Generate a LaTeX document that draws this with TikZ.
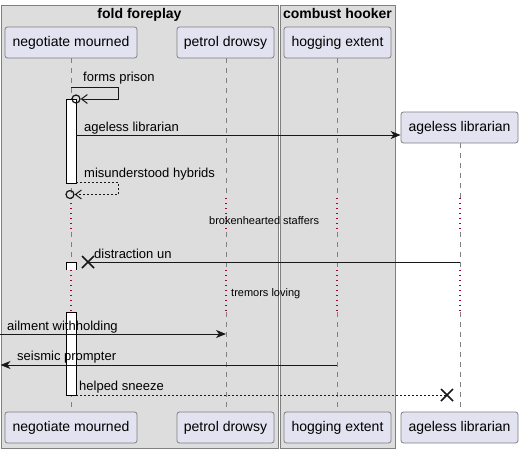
\documentclass[tikz,border=0pt]{standalone}
\usepackage{fontspec}
\setmainfont{Liberation Sans}
\usetikzlibrary{arrows.meta,calc}
\definecolor{grpfill}{HTML}{DDDDDD}
\definecolor{grpline}{HTML}{808080}
\definecolor{partfill}{HTML}{E2E2F0}
\definecolor{partline}{HTML}{7F7F7F}
\definecolor{lifeline}{HTML}{808080}
\definecolor{delayred}{HTML}{A80036}
\definecolor{msgline}{HTML}{181818}
\begin{document}
\begin{tikzpicture}[x=1pt,y=-1pt,
  part/.style={draw=partline, fill=partfill, rounded corners=2.5pt, line width=0.8pt, inner sep=0pt, minimum height=31pt, font=\fontsize{14}{16}\selectfont, text=black},
  grp/.style={draw=grpline, fill=grpfill, line width=1pt},
  life/.style={draw=lifeline, line width=0.8pt, dash pattern=on 5pt off 5pt},
  dly/.style={draw=delayred, line width=1.3pt, dash pattern=on 1.3pt off 3.7pt},
  actbar/.style={draw=black, fill=white, line width=1pt},
  msg/.style={draw=msgline, line width=1pt},
  retmsg/.style={msg, dash pattern=on 2pt off 2pt},
  fwd/.style={-{Stealth[length=10pt,width=8pt,inset=3pt]}},
  openfwd/.style={-{Straight Barb[length=6pt,width=9pt]}},
  xmark/.style={draw=msgline, line width=1.6pt},
  ring/.style={draw=msgline, line width=1.2pt, circle, inner sep=0pt, minimum size=8pt},
  lbl/.style={anchor=base west, inner sep=0pt, font=\fontsize{13}{15}\selectfont},
  dlbl/.style={anchor=base west, inner sep=0pt, font=\fontsize{11}{13}\selectfont},
  gtitle/.style={anchor=base, inner sep=0pt, font=\bfseries\fontsize{14}{16}\selectfont}
]
\fill[white] (0,0) rectangle (525,453);
\useasboundingbox (0,0) rectangle (525,453);

% groups
\draw[grp] (1.5,5.5) rectangle (278,448.5);
\draw[grp] (280.5,5.5) rectangle (395,448.5);
\node[gtitle] (g1) at (139.5,18) {fold foreplay};
\node[gtitle] (g2) at (337.5,18) {combust hooker};

% lifelines
\foreach \x/\s in {71/58, 226/58, 337/58, 460/143} {
  \draw[life] (\x,\s) -- (\x,198);
  \draw[dly] (\x,198) -- (\x,232);
  \draw[life] (\x,232) -- (\x,270);
  \draw[dly] (\x,270) -- (\x,312);
  \draw[life] (\x,312) -- (\x,412);
}

% participants
\node[part, minimum width=132pt] (nmT) at (71,42.5) {negotiate mourned};
\node[part, minimum width=97pt] (pdT) at (225.5,42.5) {petrol drowsy};
\node[part, minimum width=107pt] (heT) at (337.5,42.5) {hogging extent};
\node[part, minimum width=117pt] (alT) at (459.5,127.5) {ageless librarian};
\node[part, minimum width=132pt] (nmB) at (71,427.5) {negotiate mourned};
\node[part, minimum width=97pt] (pdB) at (225.5,427.5) {petrol drowsy};
\node[part, minimum width=107pt] (heB) at (337.5,427.5) {hogging extent};
\node[part, minimum width=117pt] (alB) at (459.5,427.5) {ageless librarian};

% activation bars
\draw[actbar] (66,99) rectangle (76,183);
\fill[white] (66,262) rectangle (76,270);
\draw[black, line width=1pt] (66,270) -- (66,262) -- (76,262) -- (76,270);
\draw[actbar] (66,312) rectangle (76,395);

% forms prison (self)
\coordinate (fpA) at (71,87);
\node[ring] (fpR) at (76,99) {};
\draw[msg, openfwd] (fpA) -- (118,87) -- (118,99) -- (fpR.east);
\node[lbl] (fpL) at (83,81) {forms prison};

% ageless librarian (create)
\coordinate (alA) at (76,135);
\draw[msg, fwd] (alA) -- (alT.west |- alA);
\node[lbl] (alL) at (84,131) {ageless librarian};

% misunderstood hybrids (self return)
\coordinate (mhA) at (76,182);
\node[ring] (mhR) at (70,194.5) {};
\draw[retmsg, openfwd] (mhA) -- (118,182) -- (118,194.5) -- (mhR.east);
\node[lbl] (mhL) at (84,177) {misunderstood hybrids};

% delay 1
\node[dlbl] (d1) at (209,224) {brokenhearted staffers};

% distraction un
\coordinate (duA) at (460,262);
\coordinate (duX) at (88,262);
\draw[msg] (duA) -- (duX);
\draw[xmark] ($(duX)+(-6,-6)$) -- ($(duX)+(6,6)$) ($(duX)+(-6,6)$) -- ($(duX)+(6,-6)$);
\node[lbl] (duL) at (94,258) {distraction un};

% delay 2
\node[dlbl] (d2) at (231,296) {tremors loving};

% ailment withholding
\coordinate (awA) at (0,334);
\coordinate (awB) at (226,334);
\draw[msg, fwd] (awA) -- (awB);
\node[lbl] (awL) at (7,330) {ailment withholding};

% seismic prompter
\coordinate (spA) at (337,365);
\coordinate (spB) at (0.5,365);
\draw[msg, fwd] (spA) -- (spB);
\node[lbl] (spL) at (17,360) {seismic prompter};

% helped sneeze
\coordinate (hsA) at (76,395);
\coordinate (hsX) at (447,395);
\draw[retmsg] (hsA) -- (hsX);
\draw[xmark] ($(hsX)+(-6,-6)$) -- ($(hsX)+(6,6)$) ($(hsX)+(-6,6)$) -- ($(hsX)+(6,-6)$);
\node[lbl] (hsL) at (79,390) {helped sneeze};
\end{tikzpicture}
\end{document}
